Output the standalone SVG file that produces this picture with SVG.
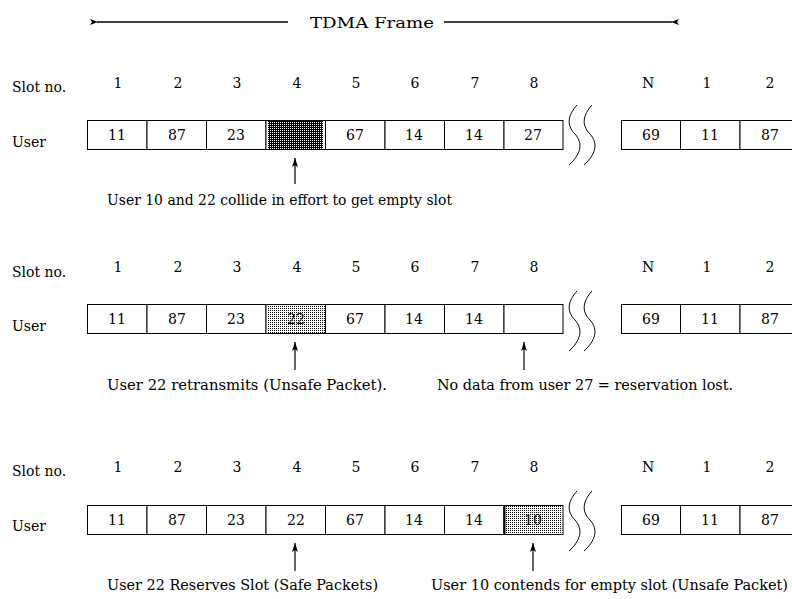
<svg xmlns="http://www.w3.org/2000/svg" width="792" height="599" viewBox="0 0 792 599">
<style>
text{font-family:"DejaVu Serif","Liberation Serif",serif;font-size:14px;fill:#000}
.c{text-anchor:middle}
.cell{fill:#fff;stroke:#000;stroke-width:1}
.ln{stroke:#000;stroke-width:1.5;fill:none}
.sq{stroke:#000;stroke-width:1;fill:none}
.ar{stroke:#000;stroke-width:1.2}
</style>
<defs>
<pattern id="dark" width="2" height="2" patternUnits="userSpaceOnUse"><rect width="2" height="2" fill="#000"/><rect width="1" height="1" fill="#fff"/></pattern>
<pattern id="light" width="2" height="2" patternUnits="userSpaceOnUse"><rect width="2" height="2" fill="#fff"/><rect width="1" height="1" fill="#000"/></pattern>
<marker id="ah" viewBox="0 0 8 8" refX="1" refY="4" markerWidth="8" markerHeight="8" orient="auto-start-reverse" markerUnits="userSpaceOnUse"><path d="M0,4 L8,1 L6,4 L8,7 Z" fill="#000"/></marker>
<marker id="up" viewBox="0 0 6 10" refX="3" refY="0" markerWidth="6" markerHeight="10" orient="0" markerUnits="userSpaceOnUse"><path d="M3,0 L6,9 L3,7 L0,9 Z" fill="#000"/></marker>
</defs>

<g id="title">
<text x="372" y="28" class="c" font-size="16" textLength="124" lengthAdjust="spacingAndGlyphs">TDMA Frame</text>
</g>
<g id="connectors">
<line class="ln" x1="97" y1="22" x2="288" y2="22" marker-start="url(#ah)"/>
<line class="ln" x1="444" y1="22" x2="672" y2="22" marker-end="url(#ah)"/>
<line class="ar" x1="295" y1="158" x2="295" y2="184" marker-start="url(#up)"/>
<line class="ar" x1="295" y1="342" x2="295" y2="370" marker-start="url(#up)"/>
<line class="ar" x1="524" y1="342" x2="524" y2="370" marker-start="url(#up)"/>
<line class="ar" x1="295" y1="543" x2="295" y2="571" marker-start="url(#up)"/>
<line class="ar" x1="533" y1="543" x2="533" y2="571" marker-start="url(#up)"/>
</g>

<!-- Row 1 -->
<g id="row1">
<text x="12" y="92">Slot no.</text>
<text x="12" y="147">User</text>
<g>
<text x="118" y="88" class="c">1</text><text x="178" y="88" class="c">2</text><text x="237" y="88" class="c">3</text><text x="297" y="88" class="c">4</text><text x="356" y="88" class="c">5</text><text x="415" y="88" class="c">6</text><text x="475" y="88" class="c">7</text><text x="534" y="88" class="c">8</text><text x="648" y="88" class="c">N</text><text x="707" y="88" class="c">1</text><text x="770" y="88" class="c">2</text>
</g>
<rect class="cell" x="87.5" y="120.5" width="59.5" height="29"/>
<rect class="cell" x="147" y="120.5" width="59.5" height="29"/>
<rect class="cell" x="206.5" y="120.5" width="59.5" height="29"/>
<rect class="cell" x="266" y="120.5" width="59.5" height="29"/>
<rect x="268" y="121" width="55" height="28" fill="url(#dark)"/>
<rect class="cell" x="325.5" y="120.5" width="59.5" height="29"/>
<rect class="cell" x="385" y="120.5" width="59.5" height="29"/>
<rect class="cell" x="444.5" y="120.5" width="59.5" height="29"/>
<rect class="cell" x="504" y="120.5" width="59" height="29"/>
<rect class="cell" x="621.5" y="120.5" width="59" height="29"/>
<rect class="cell" x="680.5" y="120.5" width="59.5" height="29"/>
<rect class="cell" x="740" y="120.5" width="60" height="29"/>
<text x="117" y="140" class="c">11</text><text x="177" y="140" class="c">87</text><text x="236" y="140" class="c">23</text><text x="355" y="140" class="c">67</text><text x="414" y="140" class="c">14</text><text x="474" y="140" class="c">14</text><text x="533" y="140" class="c">27</text><text x="651" y="140" class="c">69</text><text x="710" y="140" class="c">11</text><text x="770" y="140" class="c">87</text>
<path class="sq" d="M577,105 C568,115 566,125 575,134 C584,144 580,155 569,165"/>
<path class="sq" d="M592,105 C583,115 581,125 590,134 C599,144 595,155 584,165"/>
<text x="107" y="205" textLength="345" lengthAdjust="spacingAndGlyphs">User 10 and 22 collide in effort to get empty slot</text>
</g>

<!-- Row 2 -->
<g id="row2">
<text x="12" y="277">Slot no.</text>
<text x="12" y="331">User</text>
<g>
<text x="118" y="272" class="c">1</text><text x="178" y="272" class="c">2</text><text x="237" y="272" class="c">3</text><text x="297" y="272" class="c">4</text><text x="356" y="272" class="c">5</text><text x="415" y="272" class="c">6</text><text x="475" y="272" class="c">7</text><text x="534" y="272" class="c">8</text><text x="648" y="272" class="c">N</text><text x="707" y="272" class="c">1</text><text x="770" y="272" class="c">2</text>
</g>
<rect class="cell" x="87.5" y="304.5" width="59.5" height="29"/>
<rect class="cell" x="147" y="304.5" width="59.5" height="29"/>
<rect class="cell" x="206.5" y="304.5" width="59.5" height="29"/>
<rect class="cell" x="266" y="304.5" width="59.5" height="29"/>
<rect x="267" y="305" width="58" height="28" fill="url(#light)"/>
<rect class="cell" x="325.5" y="304.5" width="59.5" height="29"/>
<rect class="cell" x="385" y="304.5" width="59.5" height="29"/>
<rect class="cell" x="444.5" y="304.5" width="59.5" height="29"/>
<rect class="cell" x="504" y="304.5" width="59" height="29"/>
<rect class="cell" x="621.5" y="304.5" width="59" height="29"/>
<rect class="cell" x="680.5" y="304.5" width="59.5" height="29"/>
<rect class="cell" x="740" y="304.5" width="60" height="29"/>
<text x="117" y="324" class="c">11</text><text x="177" y="324" class="c">87</text><text x="236" y="324" class="c">23</text><text x="296" y="324" class="c">22</text><text x="355" y="324" class="c">67</text><text x="414" y="324" class="c">14</text><text x="474" y="324" class="c">14</text><text x="651" y="324" class="c">69</text><text x="710" y="324" class="c">11</text><text x="770" y="324" class="c">87</text>
<path class="sq" d="M577,291 C568,301 566,311 575,320 C584,330 580,341 569,351"/>
<path class="sq" d="M592,291 C583,301 581,311 590,320 C599,330 595,341 584,351"/>
<text x="107" y="390" textLength="280" lengthAdjust="spacingAndGlyphs">User 22 retransmits (Unsafe Packet).</text>
<text x="437" y="390" textLength="296" lengthAdjust="spacingAndGlyphs">No data from user 27 = reservation lost.</text>
</g>

<!-- Row 3 -->
<g id="row3">
<text x="12" y="476">Slot no.</text>
<text x="12" y="531">User</text>
<g>
<text x="118" y="472" class="c">1</text><text x="178" y="472" class="c">2</text><text x="237" y="472" class="c">3</text><text x="297" y="472" class="c">4</text><text x="356" y="472" class="c">5</text><text x="415" y="472" class="c">6</text><text x="475" y="472" class="c">7</text><text x="534" y="472" class="c">8</text><text x="648" y="472" class="c">N</text><text x="707" y="472" class="c">1</text><text x="770" y="472" class="c">2</text>
</g>
<rect class="cell" x="87.5" y="505.5" width="59.5" height="29"/>
<rect class="cell" x="147" y="505.5" width="59.5" height="29"/>
<rect class="cell" x="206.5" y="505.5" width="59.5" height="29"/>
<rect class="cell" x="266" y="505.5" width="59.5" height="29"/>
<rect class="cell" x="325.5" y="505.5" width="59.5" height="29"/>
<rect class="cell" x="385" y="505.5" width="59.5" height="29"/>
<rect class="cell" x="444.5" y="505.5" width="59.5" height="29"/>
<rect class="cell" x="504" y="505.5" width="59" height="29"/>
<rect x="504" y="506" width="58.5" height="28" fill="url(#light)"/>
<line x1="504.5" y1="505.5" x2="504.5" y2="534.5" stroke="#000" stroke-width="2"/>
<rect class="cell" x="621.5" y="505.5" width="59" height="29"/>
<rect class="cell" x="680.5" y="505.5" width="59.5" height="29"/>
<rect class="cell" x="740" y="505.5" width="60" height="29"/>
<text x="117" y="525" class="c">11</text><text x="177" y="525" class="c">87</text><text x="236" y="525" class="c">23</text><text x="296" y="525" class="c">22</text><text x="355" y="525" class="c">67</text><text x="414" y="525" class="c">14</text><text x="474" y="525" class="c">14</text><text x="533" y="525" class="c">10</text><text x="651" y="525" class="c">69</text><text x="710" y="525" class="c">11</text><text x="770" y="525" class="c">87</text>
<path class="sq" d="M577,491 C568,501 566,511 575,520 C584,530 580,541 569,551"/>
<path class="sq" d="M592,491 C583,501 581,511 590,520 C599,530 595,541 584,551"/>
<text x="107" y="590" textLength="271" lengthAdjust="spacingAndGlyphs">User 22 Reserves Slot (Safe Packets)</text>
<text x="431" y="590" textLength="357" lengthAdjust="spacingAndGlyphs">User 10 contends for empty slot (Unsafe Packet)</text>
</g>
</svg>
